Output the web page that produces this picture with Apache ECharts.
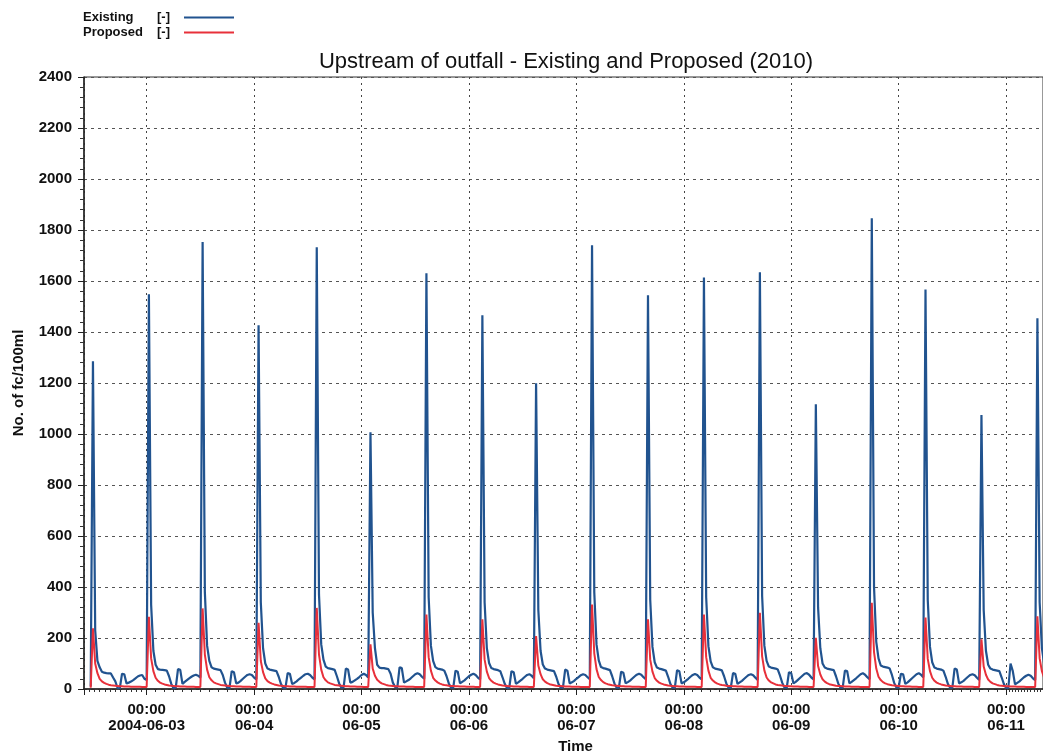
<!DOCTYPE html>
<html>
<head>
<meta charset="utf-8">
<script src="https://cdn.jsdelivr.net/npm/echarts@6/dist/echarts.min.js"></script>
<style>
html,body{margin:0;padding:0;background:#fff;}
#chart{width:1043px;height:751px;}
</style>
</head>
<body>
<div id="chart"></div>
<script>
// ---- data (30-minute samples, one array per tidal cycle, starting at each spike) ----
const seriesStart = [2004, 5, 2, 11, 30]; // 2004-06-02 11:30 local
const stepMinutes = 30;
const axisMin = '2004-06-02 10:00';
const axisMax = '2004-06-11 08:15';

const existingLeadIn = [10];
const existingCycles = [
  [1285, 230, 110, 85, 68, 64, 62, 61, 61, 45, 30, 4, 3, 60, 58, 22, 25, 29, 35, 42, 49, 53, 55, 40, 35],
  [1548, 330, 150, 95, 78, 76, 75, 74, 72, 50, 20, 3, 5, 78, 75, 20, 28, 35, 42, 48, 53, 56, 52, 45],
  [1753, 380, 170, 110, 85, 80, 78, 76, 74, 55, 25, 5, 4, 70, 66, 22, 25, 32, 40, 48, 55, 58, 55, 45, 38],
  [1426, 340, 160, 100, 80, 76, 74, 72, 70, 48, 20, 4, 4, 62, 60, 20, 24, 30, 38, 45, 52, 58, 60, 55, 45, 38],
  [1732, 370, 175, 115, 88, 82, 80, 78, 75, 50, 22, 5, 6, 80, 76, 25, 28, 34, 40, 47, 55, 60, 55, 45],
  [1007, 300, 160, 95, 84, 82, 82, 80, 78, 60, 25, 8, 6, 85, 82, 25, 30, 35, 42, 50, 58, 62, 58, 48, 40],
  [1630, 360, 170, 110, 86, 80, 78, 76, 72, 50, 22, 5, 5, 72, 68, 22, 28, 34, 42, 50, 56, 60, 55, 45, 38],
  [1466, 340, 160, 102, 82, 78, 76, 74, 70, 46, 20, 4, 4, 70, 66, 20, 26, 33, 40, 48, 55, 58, 52, 42],
  [1199, 310, 150, 96, 80, 76, 74, 72, 70, 48, 20, 5, 5, 76, 72, 22, 26, 32, 40, 47, 54, 58, 55, 46, 38],
  [1740, 380, 175, 112, 86, 82, 80, 77, 74, 50, 22, 5, 5, 68, 64, 22, 27, 33, 41, 49, 56, 60, 56, 46, 38],
  [1544, 350, 165, 105, 84, 80, 78, 75, 72, 48, 20, 5, 5, 74, 70, 22, 26, 33, 40, 48, 55, 59, 55, 45, 38],
  [1614, 360, 168, 108, 85, 80, 78, 76, 73, 50, 22, 5, 5, 62, 60, 20, 26, 32, 40, 48, 55, 58, 54, 44, 36],
  [1634, 365, 170, 110, 88, 84, 82, 80, 76, 52, 24, 6, 5, 66, 62, 22, 28, 36, 44, 52, 60, 62, 56, 45, 38],
  [1117, 320, 160, 100, 84, 80, 78, 76, 74, 50, 22, 5, 5, 72, 70, 22, 28, 35, 42, 50, 58, 62, 56, 46, 38],
  [1846, 400, 185, 120, 92, 88, 86, 84, 80, 55, 24, 6, 6, 60, 58, 20, 26, 34, 42, 50, 58, 62, 56, 46],
  [1567, 350, 165, 105, 84, 80, 78, 76, 72, 48, 20, 5, 5, 80, 76, 22, 26, 32, 40, 48, 55, 58, 54, 44, 36],
  [1074, 310, 150, 95, 80, 76, 74, 72, 70, 46, 20, 4, 4, 100, 70, 18, 24, 30, 38, 46, 52, 56, 52, 42, 35],
  [1454, 340, 160, 100]
];

const proposedLeadIn = [5];
const proposedCycles = [
  [238, 100, 62, 40, 30, 24, 20, 17, 15, 14, 13, 12, 11, 11, 10, 10, 10, 9, 9, 9, 9, 9, 8, 8, 8],
  [283, 120, 70, 44, 32, 25, 21, 18, 16, 14, 13, 12, 11, 11, 10, 10, 10, 9, 9, 9, 9, 8, 8, 8],
  [316, 135, 76, 46, 34, 26, 22, 19, 16, 15, 14, 13, 12, 11, 11, 10, 10, 10, 9, 9, 9, 9, 8, 8, 8],
  [260, 110, 66, 42, 31, 25, 21, 18, 16, 14, 13, 12, 11, 11, 10, 10, 10, 9, 9, 9, 9, 9, 8, 8, 8, 8],
  [318, 135, 76, 46, 34, 26, 22, 19, 16, 15, 14, 13, 12, 11, 11, 10, 10, 10, 9, 9, 9, 8, 8, 8],
  [175, 80, 52, 36, 28, 22, 19, 16, 14, 13, 12, 11, 11, 10, 10, 10, 9, 9, 9, 9, 8, 8, 8, 8, 8],
  [292, 125, 72, 44, 33, 26, 21, 18, 16, 15, 13, 12, 12, 11, 11, 10, 10, 10, 9, 9, 9, 9, 8, 8, 8],
  [273, 115, 68, 43, 32, 25, 21, 18, 16, 14, 13, 12, 11, 11, 10, 10, 10, 9, 9, 9, 9, 8, 8, 8],
  [208, 92, 58, 38, 29, 23, 19, 17, 15, 13, 12, 12, 11, 10, 10, 10, 9, 9, 9, 9, 8, 8, 8, 8, 8],
  [331, 140, 78, 47, 35, 27, 22, 19, 17, 15, 14, 13, 12, 11, 11, 10, 10, 10, 9, 9, 9, 9, 8, 8, 8],
  [273, 115, 68, 43, 32, 25, 21, 18, 16, 14, 13, 12, 11, 11, 10, 10, 10, 9, 9, 9, 9, 9, 8, 8, 8],
  [292, 125, 72, 44, 33, 26, 21, 18, 16, 15, 13, 12, 12, 11, 11, 10, 10, 10, 9, 9, 9, 9, 8, 8, 8],
  [299, 128, 73, 45, 33, 26, 22, 18, 16, 15, 14, 12, 12, 11, 11, 10, 10, 10, 9, 9, 9, 9, 8, 8, 8],
  [201, 90, 57, 38, 29, 23, 19, 17, 15, 13, 12, 12, 11, 10, 10, 10, 9, 9, 9, 9, 8, 8, 8, 8, 8],
  [338, 145, 80, 48, 35, 27, 22, 19, 17, 15, 14, 13, 12, 11, 11, 10, 10, 10, 9, 9, 9, 8, 8, 8],
  [280, 118, 70, 44, 32, 25, 21, 18, 16, 14, 13, 12, 11, 11, 10, 10, 10, 9, 9, 9, 9, 9, 8, 8, 8],
  [195, 88, 56, 37, 28, 22, 19, 16, 14, 13, 12, 11, 11, 10, 10, 10, 9, 9, 9, 9, 8, 8, 8, 8, 8],
  [285, 120, 70, 44]
];

const dayTicks = ['2004-06-03', '2004-06-04', '2004-06-05', '2004-06-06', '2004-06-07',
                  '2004-06-08', '2004-06-09', '2004-06-10', '2004-06-11'];
const dayTickLabels = ['00:00\n2004-06-03', '00:00\n06-04', '00:00\n06-05', '00:00\n06-06', '00:00\n06-07',
                       '00:00\n06-08', '00:00\n06-09', '00:00\n06-10', '00:00\n06-11'];

const titleText = 'Upstream of outfall - Existing and Proposed (2010)';
const yAxisName = 'No. of fc/100ml';
const xAxisName = 'Time';
const seriesNames = ['Existing', 'Proposed'];
const unitLabel = '[-]';

// ---- build time series ----
function toSeries(leadIn, cycles) {
  const vals = leadIn.concat(...cycles);
  const t0 = new Date(seriesStart[0], seriesStart[1], seriesStart[2], seriesStart[3], seriesStart[4]).getTime();
  return vals.map((v, i) => [t0 + i * stepMinutes * 60000, v]);
}
const existingData = toSeries(existingLeadIn, existingCycles);
const proposedData = toSeries(proposedLeadIn, proposedCycles);

function pad(n) { return (n < 10 ? '0' : '') + n; }
function dayKey(v) {
  const d = new Date(v);
  if (d.getHours() !== 0 || d.getMinutes() !== 0) return null;
  return d.getFullYear() + '-' + pad(d.getMonth() + 1) + '-' + pad(d.getDate());
}

const chart = echarts.init(document.getElementById('chart'), null, {renderer: 'canvas'});
const FONT = 'Liberation Sans, Arial, sans-serif';
const blue = '#21538f';
const red = '#e8303a';
chart.setOption({
  backgroundColor: '#ffffff',
  animation: false,
  textStyle: {fontFamily: FONT},
  title: {
    text: titleText,
    left: 561,
    top: 46,
    textAlign: 'center',
    textStyle: {fontFamily: FONT, fontSize: 22, fontWeight: 'normal', color: '#111'}
  },
  legend: {
    orient: 'vertical',
    left: 78,
    top: 6,
    align: 'right',
    icon: 'rect',
    itemWidth: 50,
    itemHeight: 2,
    itemGap: 2,
    data: seriesNames,
    formatter: name => '{n|' + name + '}{u|' + unitLabel + '}',
    textStyle: {
      fontFamily: FONT, fontSize: 13, fontWeight: 'bold', color: '#111',
      rich: {
        n: {width: 74, align: 'left', fontSize: 13, fontWeight: 'bold', color: '#111', fontFamily: FONT},
        u: {width: 22, align: 'left', fontSize: 13, fontWeight: 'bold', color: '#111', fontFamily: FONT}
      }
    }
  },
  grid: {left: 84, right: 0, top: 77, bottom: 62, show: true, borderColor: '#333', borderWidth: 1,
         containLabel: false, outerBoundsMode: 'none'},
  xAxis: {
    type: 'time',
    min: axisMin,
    max: axisMax,
    minInterval: 86400000,
    maxInterval: 86400000,
    name: xAxisName,
    nameLocation: 'middle',
    nameGap: 49,
    nameTextStyle: {fontFamily: FONT, fontSize: 15, fontWeight: 'bold', color: '#111', padding: [0, 0, 0, 24]},
    axisLine: {show: true, lineStyle: {color: '#222', width: 1.5}},
    axisTick: {show: true, length: 6, lineStyle: {color: '#222'}},
    minorTick: {show: true, splitNumber: 12, length: 3, lineStyle: {color: '#333'}},
    axisLabel: {
      showMinLabel: false, showMaxLabel: false,
      fontFamily: FONT, fontSize: 15, fontWeight: 'bold', color: '#111', lineHeight: 16, margin: 13,
      hideOverlap: false,
      formatter: function (v) {
        const k = dayKey(v);
        const i = k ? dayTicks.indexOf(k) : -1;
        return i >= 0 ? dayTickLabels[i] : '';
      }
    },
    splitLine: {show: true, lineStyle: {color: '#444', width: 1, type: [2, 4]}}
  },
  yAxis: {
    type: 'value',
    min: 0,
    max: 2400,
    interval: 200,
    name: yAxisName,
    nameLocation: 'middle',
    nameGap: 58,
    nameRotate: 90,
    nameTextStyle: {fontFamily: FONT, fontSize: 15, fontWeight: 'bold', color: '#111'},
    axisLine: {show: true, lineStyle: {color: '#222', width: 1.5}},
    axisTick: {show: true, length: 6, lineStyle: {color: '#222'}},
    minorTick: {show: true, splitNumber: 5, length: 4, lineStyle: {color: '#333'}},
    axisLabel: {fontFamily: FONT, fontSize: 15, fontWeight: 'bold', color: '#111', margin: 12,
                formatter: v => String(v)},
    splitLine: {show: true, lineStyle: {color: '#555', width: 1, type: [3, 4]}}
  },
  series: [
    {name: seriesNames[0], type: 'line', data: existingData, symbol: 'none', showSymbol: false,
     lineStyle: {color: blue, width: 2.2}, itemStyle: {color: blue}, z: 2},
    {name: seriesNames[1], type: 'line', data: proposedData, symbol: 'none', showSymbol: false,
     lineStyle: {color: red, width: 2}, itemStyle: {color: red}, z: 3}
  ]
});
</script>
</body>
</html>
